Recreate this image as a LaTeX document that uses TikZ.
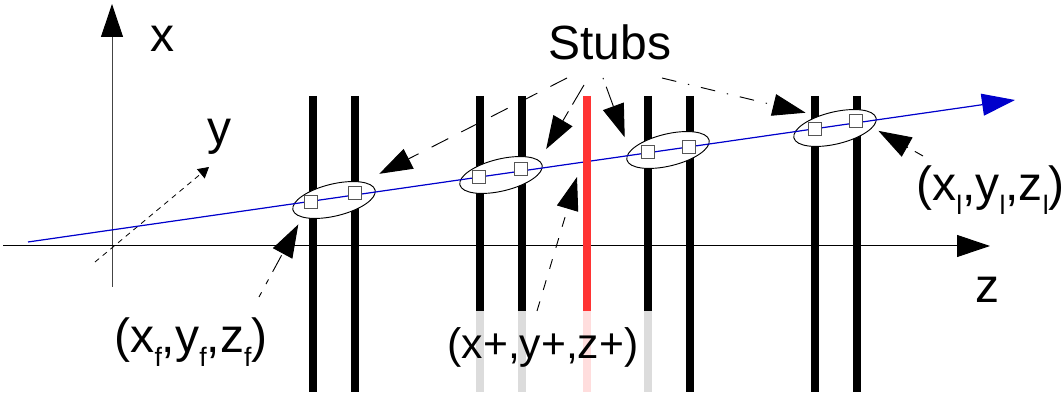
\documentclass[tikz,border=0pt]{standalone}
\usepackage{fontspec}
\setmainfont{Liberation Sans}
\usetikzlibrary{arrows.meta,shapes.geometric}
\definecolor{TrackBlue}{HTML}{0000CC}
\definecolor{StubRed}{HTML}{FF3333}
\definecolor{StubPink}{HTML}{FFDDDD}
\definecolor{StubGrey}{HTML}{DCDCDC}
\definecolor{AxisGrey}{HTML}{444444}
\definecolor{HitGrey}{HTML}{555555}
\newcommand{\hitIndex}[1]{\raisebox{-0.28em}{\fontsize{20pt}{20pt}\selectfont #1}}

\begin{document}
\begin{tikzpicture}[
  x=0.75pt,y=-0.75pt,
  bigtip/.style={-{Triangle[length=24.75pt,width=16.5pt]}},
  axisline/.style={bigtip,line width=0.75pt},
  stubline/.style={line width=6pt,draw=black},
  fadeline/.style={line width=6pt,draw=StubGrey},
  cluster/.style={draw=black,fill=white,ellipse,rotate=13.6,minimum width=63.4pt,minimum height=24pt,inner sep=0pt,line width=0.7pt},
  hit/.style={draw=HitGrey,fill=white,minimum size=9.5pt,inner sep=0pt,line width=0.9pt},
  callout/.style={bigtip,line width=0.7pt},
  biglabel/.style={font=\fontsize{36pt}{36pt}\selectfont,inner sep=0pt}
]
\useasboundingbox (0,0) rectangle (1064,398);
% stubs, the faded parts first
\draw[fadeline] (480,311) -- (480,392);
\draw[fadeline] (522,311) -- (522,392);
\draw[fadeline,draw=StubPink] (587,311) -- (587,392);
\draw[fadeline] (648,311) -- (648,392);
\draw[stubline] (313,96) -- (313,392);
\draw[stubline] (355,96) -- (355,392);
\draw[stubline] (480,96) -- (480,311);
\draw[stubline] (522,96) -- (522,311);
\draw[stubline] (648,96) -- (648,311);
\draw[stubline] (690,96) -- (690,392);
\draw[stubline] (815,96) -- (815,392);
\draw[stubline] (857,96) -- (857,392);
% axes
\coordinate (xfoot) at (112,287);
\coordinate (xhead) at (112,4);
\coordinate (zfoot) at (3,246);
\coordinate (zhead) at (990,246);
\coordinate (yfoot) at (95,262);
\coordinate (yhead) at (209,167);
\draw[axisline,draw=AxisGrey,-{Triangle[length=24.75pt,width=16.5pt,black]}] (xfoot) -- (xhead);
\draw[axisline] (zfoot) -- (zhead);
\draw[line width=0.6pt,dash pattern=on 4pt off 3.5pt,-{Triangle[length=8pt,width=9pt]}] (yfoot) -- (yhead);
% clusters of hits
\node[cluster] (clusterA) at (334,200) {};
\node[cluster] (clusterB) at (501,175) {};
\node[cluster] (clusterC) at (668,150) {};
\node[cluster] (clusterD) at (835,128) {};
% track
\coordinate (trackfoot) at (28,242);
\coordinate (trackhead) at (1015,100);
\draw[bigtip,draw=TrackBlue,fill=TrackBlue,line width=0.9pt] (trackfoot) -- (trackhead);
\draw[stubline,draw=StubRed] (587,96) -- (587,311);
\node[hit] (hitA1) at (311,202) {};
\node[hit] (hitA2) at (355,193) {};
\node[hit] (hitB1) at (479,177) {};
\node[hit] (hitB2) at (521,169) {};
\node[hit] (hitC1) at (648,152) {};
\node[hit] (hitC2) at (689,147) {};
\node[hit] (hitD1) at (815,129) {};
\node[hit] (hitD2) at (856,121) {};
% labels
\node[biglabel] (xlabel) at (162,39) {x};
\node[biglabel] (ylabel) at (219,137) {y};
\node[biglabel] (zlabel) at (987,290) {z};
\node[biglabel] (stubs) at (610,42) {Stubs};
\node[biglabel] (first) at (191,342) {(x\hitIndex{f},y\hitIndex{f},z\hitIndex{f})};
\node[biglabel] (last) at (990.5,190) {(x\hitIndex{l},y\hitIndex{l},z\hitIndex{l})};
\node[biglabel,font=\fontsize{32pt}{32pt}\selectfont] (plus) at (543,347) {(x+,y+,z+)};
% callouts
\coordinate (stubsA) at (567,78);
\coordinate (stubsB) at (584,85);
\coordinate (stubsC) at (603,78);
\coordinate (stubsD) at (662,78);
\coordinate (firstfoot) at (259,297);
\coordinate (lastfoot) at (923,156);
\coordinate (plusfoot) at (537,311);
\coordinate (plushit) at (577,177);
\draw[callout,shorten >=13.5pt,dash pattern=on 14pt off 11pt] (stubsA) -- (clusterA.18);
\draw[callout,shorten >=10pt,dash pattern=on 17pt off 6pt] (stubsB) -- (clusterB.7);
\draw[callout,shorten >=11pt,dash pattern=on 1pt off 6pt on 16pt off 30pt] (stubsC) -- (clusterC.168);
\draw[callout,shorten >=10pt,dash pattern=on 11pt off 9pt on 1pt off 9pt] (stubsD) -- (clusterD.130);
\draw[callout,shorten >=5pt,dash pattern=on 7pt off 6pt] (lastfoot) -- (clusterD.-13);
\draw[callout,shorten >=6pt,dash pattern=on 4pt off 7pt on 4pt off 6.5pt on 14pt off 30pt] (firstfoot) -- (clusterA.195);
\draw[callout,dash pattern=on 7.5pt off 9pt] (plusfoot) -- (plushit);
\end{tikzpicture}
\end{document}
